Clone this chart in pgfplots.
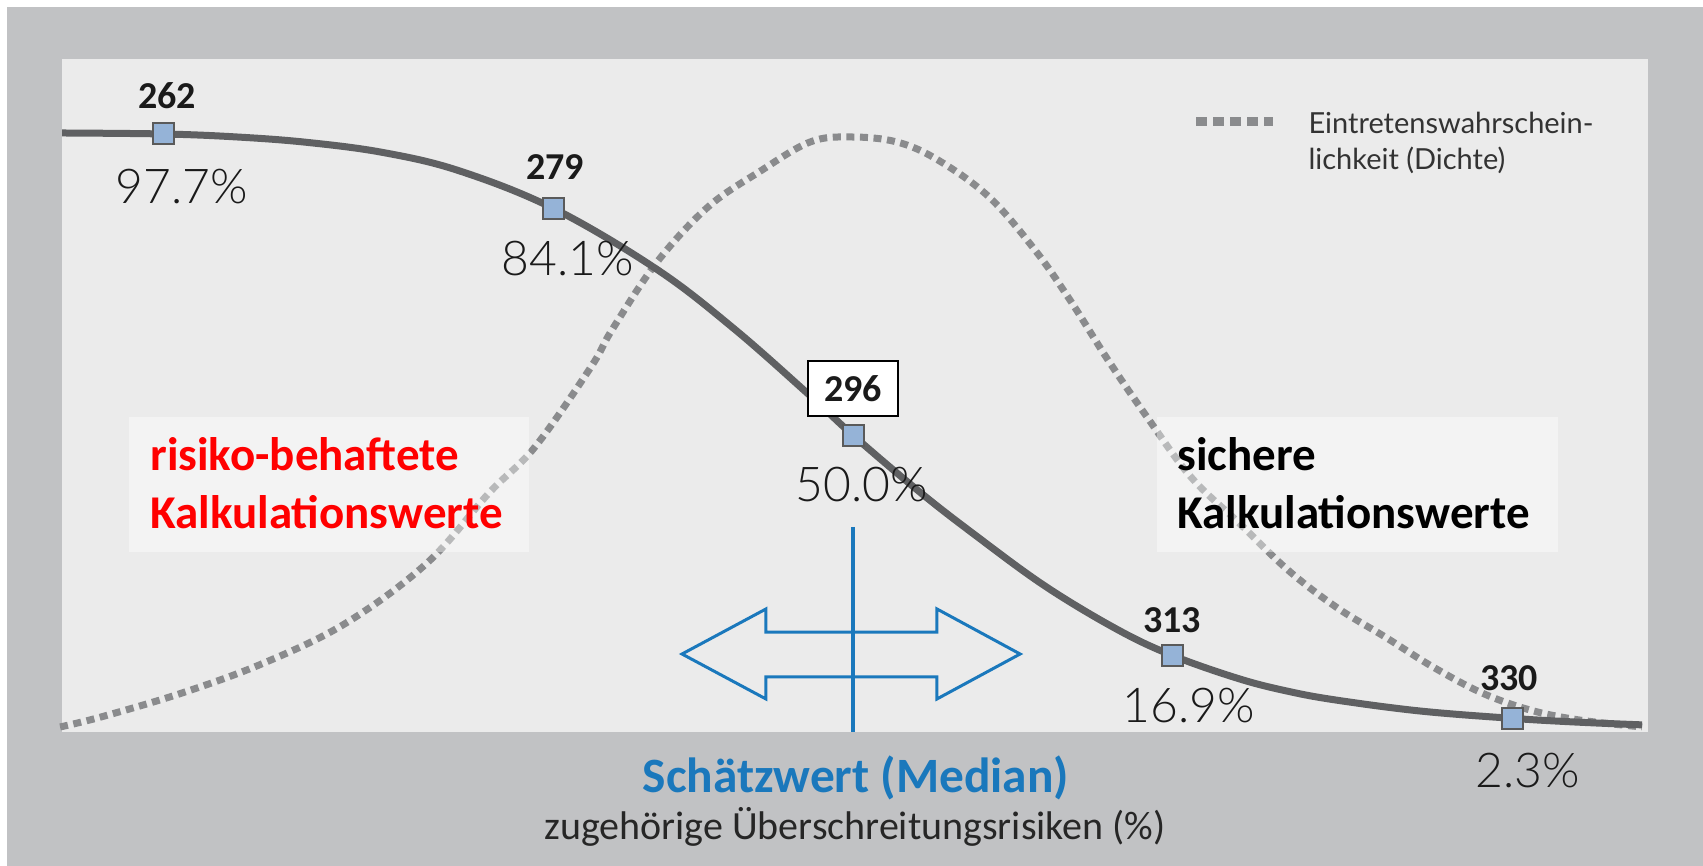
\documentclass[border=0pt]{standalone}
\usepackage{pgfplots}
\pgfplotsset{compat=1.18}
\usepackage{pgfplotstable}
\usepackage{fontspec}
\setmainfont{Carlito}
\newfontfamily\pctfont{Lato Light}
\newfontfamily\legfont{Lato}
\definecolor{outerbg}{HTML}{C1C2C4}
\definecolor{panelbg}{HTML}{EBEBEB}
\definecolor{curvecol}{HTML}{5F6062}
\definecolor{dotcol}{HTML}{8A8B8D}
\definecolor{mkfill}{HTML}{95B3D7}
\definecolor{mkdraw}{HTML}{5A5A5A}
\definecolor{bluecol}{HTML}{1A78BC}
\definecolor{txtcol}{HTML}{1A1A1A}

% solid curve: exceedance risk (%) vs value
\pgfplotstableread{
x y
256.85 99.50
262.00 99.33
265.59 98.85
269.17 97.95
273.06 96.24
276.90 93.19
281.70 86.84
286.91 76.67
290.80 66.76
294.64 55.57
296.81 48.95
300.14 39.57
302.87 32.53
306.51 23.73
310.20 16.40
312.97 12.09
316.31 8.23
318.78 6.14
321.21 4.67
325.45 2.84
330.10 1.61
333.39 0.98
336.67 0.52
}\riskdata

% dotted curve: density (relative)
\pgfplotstableread{
x y
256.75 0.17
258.82 1.84
262.91 5.85
267.05 10.87
271.20 17.56
275.29 27.59
278.42 39.30
280.74 46.99
283.57 60.37
284.63 66.56
286.91 77.93
289.48 87.12
292.06 92.98
294.64 97.99
296.71 98.83
299.03 97.99
301.10 94.98
303.68 88.80
306.00 79.93
307.77 71.57
309.69 61.54
311.66 52.01
313.88 41.97
316.31 34.28
318.78 26.42
321.21 20.23
323.69 15.22
326.11 10.20
328.59 5.85
331.01 3.01
333.49 1.34
336.67 0.17
}\densdata

% marked points
\pgfplotstableread{
x y
262.00 99.33
281.70 86.84
296.81 48.95
312.97 12.09
330.10 1.61
}\markdata

\begin{document}
\begin{tikzpicture}
\begin{axis}[
  width=851.5pt, height=433pt, scale only axis,
  xmin=253.715, xmax=339.75, ymin=-23.08, ymax=121.74,
  hide axis, clip=false,
]
% backgrounds
\fill[white] (axis cs:253.715,-23.08) rectangle (axis cs:339.75,121.74);
\fill[outerbg] (axis cs:254.07,-23.08) rectangle (axis cs:339.75,120.57);
\fill[panelbg] (axis cs:256.85,-0.67) rectangle (axis cs:336.97,111.87);

% density curve (dotted)
\addplot[dotcol, line width=3.5pt, dash pattern=on 4pt off 2.8pt, smooth, tension=0.6] table[x=x,y=y] {\densdata};

% semi-transparent text boxes
\fill[white, fill opacity=0.4] (axis cs:260.23,29.43) rectangle (axis cs:280.44,52.01);
\fill[white, fill opacity=0.4] (axis cs:312.17,29.43) rectangle (axis cs:332.42,52.01);

% risk curve
\addplot[curvecol, line width=3.5pt, smooth, tension=0.6] table[x=x,y=y] {\riskdata};

% blue median marker
\draw[bluecol, line width=2pt] (axis cs:296.81,33.61) -- (axis cs:296.81,-0.67);
\draw[bluecol, line width=1.5pt, line join=miter]
  (axis cs:288.17,12.37) -- (axis cs:292.41,19.90) -- (axis cs:292.41,16.05)
  -- (axis cs:301.05,16.05) -- (axis cs:301.05,19.90) -- (axis cs:305.25,12.37)
  -- (axis cs:301.05,4.85) -- (axis cs:301.05,8.53) -- (axis cs:292.41,8.53)
  -- (axis cs:292.41,4.85) -- cycle;

% markers
\addplot[only marks, mark=square*, mark size=5.25pt,
  mark options={fill=mkfill, draw=mkdraw, line width=1pt}] table[x=x,y=y] {\markdata};

% value labels
\node[anchor=base, font=\fontsize{19}{19}\selectfont\bfseries, text=txtcol] at (axis cs:262.15,103.51) {262};
\node[anchor=base, font=\fontsize{19}{19}\selectfont\bfseries, text=txtcol] at (axis cs:281.75,91.64) {279};
\node[anchor=base, font=\fontsize{19}{19}\selectfont\bfseries, text=txtcol] at (axis cs:312.92,16.05) {313};
\node[anchor=base, font=\fontsize{19}{19}\selectfont\bfseries, text=txtcol] at (axis cs:329.95,6.35) {330};
\node[draw=black, line width=1pt, fill=white, minimum width=45pt, minimum height=27.5pt, inner sep=0pt,
  font=\fontsize{19}{19}\selectfont\bfseries, text=txtcol] at (axis cs:296.81,56.77) {296};

% percentage labels
\node[anchor=base, font=\pctfont\fontsize{24}{24}\selectfont, text=txtcol] at (axis cs:262.91,87.79) {97.7\%};
\node[anchor=base, font=\pctfont\fontsize{24}{24}\selectfont, text=txtcol] at (axis cs:282.41,75.75) {84.1\%};
\node[anchor=base, font=\pctfont\fontsize{24}{24}\selectfont, text=txtcol] at (axis cs:297.26,37.79) {50.0\%};
\node[anchor=base, font=\pctfont\fontsize{24}{24}\selectfont, text=txtcol] at (axis cs:313.78,0.84) {16.9\%};
\node[anchor=base, font=\pctfont\fontsize{24}{24}\selectfont, text=txtcol] at (axis cs:330.91,-10.03) {2.3\%};

% region texts
\node[anchor=base west, inner sep=0pt, font=\fontsize{23.5}{23.5}\selectfont\bfseries, text=red] at (axis cs:261.29,43.14) {risiko-behaftete};
\node[anchor=base west, inner sep=0pt, font=\fontsize{23.5}{23.5}\selectfont\bfseries, text=red] at (axis cs:261.29,33.44) {Kalkulationswerte};
\node[anchor=base west, inner sep=0pt, font=\fontsize{23.5}{23.5}\selectfont\bfseries, text=black] at (axis cs:313.18,43.14) {sichere};
\node[anchor=base west, inner sep=0pt, font=\fontsize{23.5}{23.5}\selectfont\bfseries, text=black] at (axis cs:313.18,33.44) {Kalkulationswerte};

% legend
\draw[dotcol, line width=4.5pt, dash pattern=on 5.5pt off 3pt] (axis cs:314.14,101.34) -- (axis cs:318.05,101.34);
\node[anchor=base west, inner sep=0pt, font=\legfont\fontsize{14.5}{14.5}\selectfont, text=black!80] at (axis cs:319.80,99.33) {Eintretenswahrschein-};
\node[anchor=base west, inner sep=0pt, font=\legfont\fontsize{14.5}{14.5}\selectfont, text=black!80] at (axis cs:319.80,93.31) {lichkeit (Dichte)};

% bottom labels
\node[anchor=base, inner sep=0pt, font=\fontsize{24.7}{24.7}\selectfont\bfseries, text=bluecol] at (axis cs:296.96,-10.87) {Schätzwert (Median)};
\node[anchor=base, inner sep=0pt, font=\fontsize{20}{20}\selectfont, text=black!85] at (axis cs:296.91,-18.73) {zugehörige Überschreitungsrisiken (\%)};
\end{axis}
\end{tikzpicture}
\end{document}
